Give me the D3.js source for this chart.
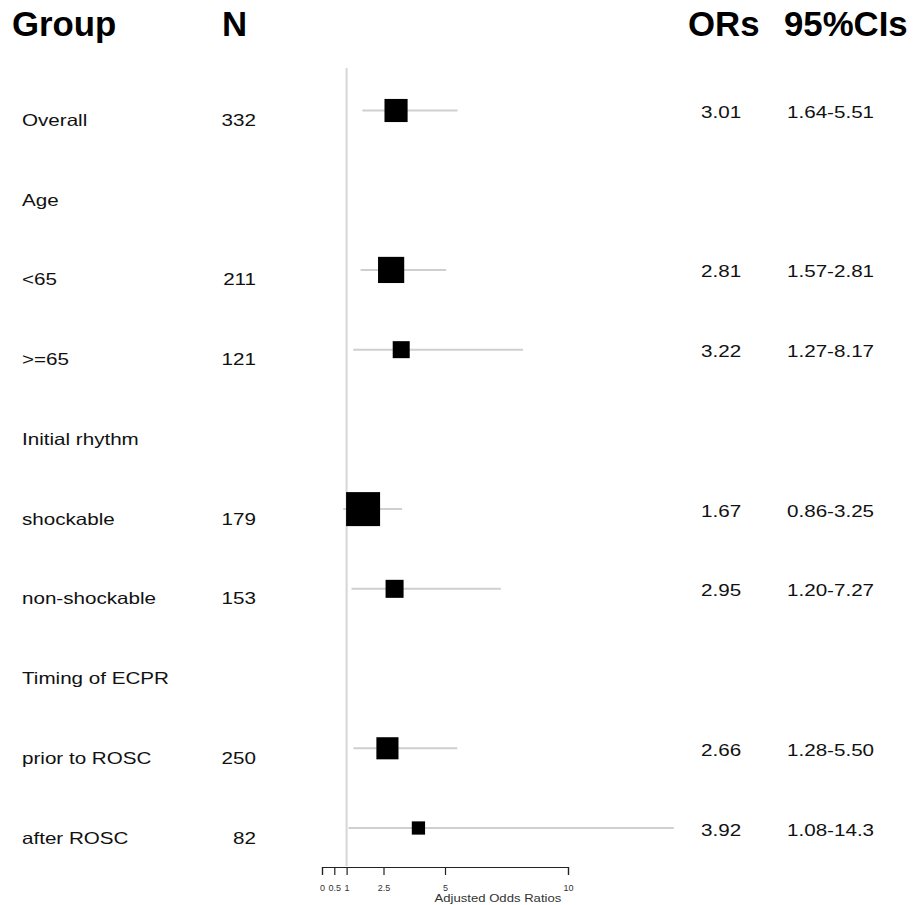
<!DOCTYPE html>
<html>
<head>
<meta charset="utf-8">
<script src="https://cdnjs.cloudflare.com/ajax/libs/d3/7.8.5/d3.min.js"></script>
<style>
  body { margin: 0; background: #fff; }
  svg { display: block; }
</style>
</head>
<body>
<svg id="chart" width="920" height="905"></svg>
<script>
// rows of the forest plot (null = subgroup heading)
const groups = ['Overall', 'Age', '<65', '>=65', 'Initial rhythm', 'shockable',
  'non-shockable', 'Timing of ECPR', 'prior to ROSC', 'after ROSC'];
const nValues = [332, null, 211, 121, null, 179, 153, null, 250, 82];
const oddsRatios = [3.01, null, 2.81, 3.22, null, 1.67, 2.95, null, 2.66, 3.92];
const ciLow = [1.64, null, 1.57, 1.27, null, 0.86, 1.20, null, 1.28, 1.08];
const ciHigh = [5.51, null, 5.05, 8.17, null, 3.25, 7.27, null, 5.50, 14.3];
const ciLabels = ['1.64-5.51', '', '1.57-2.81', '1.27-8.17', '', '0.86-3.25',
  '1.20-7.27', '', '1.28-5.50', '1.08-14.3'];
const boxWeight = [0.68, null, 0.77, 0.5, null, 1, 0.53, null, 0.65, 0.39];
const xTicks = [0, 0.5, 1, 2.5, 5, 10];

const svg = d3.select('#chart');
const rows = groups.map((g, i) => ({
  group: g, n: nValues[i], or: oddsRatios[i], lo: ciLow[i], hi: ciHigh[i],
  ci: ciLabels[i], w: boxWeight[i],
}));
const est = rows.filter((d) => d.or !== null);

const x = d3.scaleLinear().domain([0, 10]).range([322, 568]);
const y = d3.scalePoint().domain(groups).range([110.5, 828]);
const box = d3.scaleLinear().domain([0, 1]).range([0, 34]);

const ink = '#111';
const font = 'Liberation Sans, Arial, sans-serif';
const stretch = 'scale(1.25,1)';

// column headers
const headers = [['Group', 12], ['N', 222], ['ORs', 688], ['95%CIs', 784]];
svg.selectAll('.hdr')
  .data(headers)
  .enter()
  .append('text')
  .attr('class', 'hdr')
  .attr('transform', (d) => `translate(${d[1]},36) scale(0.98,1)`)
  .style('font-family', font)
  .style('font-weight', 'bold')
  .style('font-size', '35.5px')
  .style('fill', '#000')
  .text((d) => d[0]);

// line of no effect
svg.append('line')
  .attr('x1', x(1)).attr('x2', x(1))
  .attr('y1', 68).attr('y2', 866)
  .style('stroke', '#d6d6d6')
  .style('stroke-width', 2);

// confidence intervals
svg.selectAll('.ci')
  .data(est)
  .enter()
  .append('line')
  .attr('class', 'ci')
  .attr('x1', (d) => x(d.lo))
  .attr('x2', (d) => x(d.hi))
  .attr('y1', (d) => y(d.group))
  .attr('y2', (d) => y(d.group))
  .style('stroke', '#cfcfcf')
  .style('stroke-width', 2);

// point estimates
svg.selectAll('.box')
  .data(est)
  .enter()
  .append('rect')
  .attr('class', 'box')
  .attr('x', (d) => x(d.or) - box(d.w) / 2)
  .attr('y', (d) => y(d.group) - box(d.w) / 2)
  .attr('width', (d) => box(d.w))
  .attr('height', (d) => box(d.w))
  .style('fill', '#000');

// text columns
const addCol = (cls, data, xPos, dy, anchor, fmt) => {
  svg.selectAll('.' + cls)
    .data(data)
    .enter()
    .append('text')
    .attr('class', cls)
    .attr('transform', (d) => `translate(${xPos},${y(d.group) + dy}) ${stretch}`)
    .attr('text-anchor', anchor)
    .style('font-family', font)
    .style('font-size', '16.5px')
    .style('fill', ink)
    .text(fmt);
};
addCol('lbl', rows, 22, 15.5, 'start', (d) => d.group);
addCol('nval', rows.filter((d) => d.n !== null), 256, 15.5, 'end', (d) => d.n);
addCol('orv', est, 701, 7.5, 'start', (d) => d.or.toFixed(2));
addCol('civ', est, 787, 7.5, 'start', (d) => d.ci);

// x axis
const xAxis = d3.axisBottom(x)
  .tickValues(xTicks)
  .tickFormat((d) => d)
  .tickSize(8)
  .tickPadding(10);
const gx = svg.append('g')
  .attr('transform', 'translate(0,867)')
  .call(xAxis);
gx.selectAll('path, line').style('stroke', '#222').style('stroke-width', 1.2);
gx.selectAll('text')
  .style('font-family', font)
  .style('font-size', '9px')
  .style('fill', '#333');

svg.append('text')
  .attr('transform', `translate(${(x(0) + x(d3.max(ciHigh))) / 2},901.5) ${stretch}`)
  .attr('text-anchor', 'middle')
  .style('font-family', font)
  .style('font-size', '10.5px')
  .style('fill', '#333')
  .text('Adjusted Odds Ratios');
</script>
</body>
</html>
